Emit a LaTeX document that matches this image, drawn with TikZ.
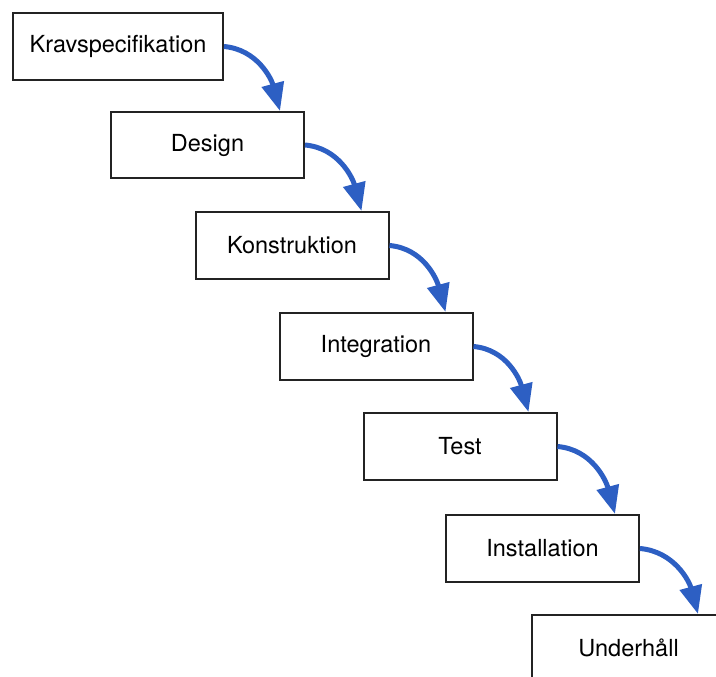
\documentclass[tikz,border=0pt]{standalone}
\usepackage{fontspec}
\setmainfont{TeX Gyre Heros}
\usetikzlibrary{arrows.meta}
\definecolor{flowblue}{RGB}{45,95,195}
\definecolor{boxline}{RGB}{35,35,35}
\begin{document}
\begin{tikzpicture}[x=1pt,y=-1pt,
  stage/.style={draw=boxline, line width=2pt, fill=white, minimum width=193pt,
    minimum height=66pt, inner sep=0pt, font=\fontsize{23.5}{26}\selectfont},
  flow/.style={draw=flowblue, line width=5pt,
    -{Triangle[length=28pt,width=22pt]}}]
\clip (0,0) rectangle (716,677);
\fill[white] (0,0) rectangle (716,677);
\node[stage, minimum width=210pt, minimum height=67pt] (k) at (118,46.5) {Kravspecifikation};
\node[stage] (d) at (207.5,145) {Design};
\node[stage, minimum height=67pt] (c) at (292,245.5) {Konstruktion};
\node[stage, minimum height=67pt] (i) at (376,346.5) {Integration};
\node[stage, minimum height=67pt] (t) at (460,446.5) {Test};
\node[stage, minimum height=67pt] (s) at (542.5,548.5) {Installation};
\node[stage] (u) at (628.5,648) {Underhåll};
\draw[flow] (k.east) to[out=-5,in=105] ([xshift=-25pt]d.north east);
\draw[flow] (d.east) to[out=-5,in=105] ([xshift=-28pt]c.north east);
\draw[flow] (c.east) to[out=-5,in=105] ([xshift=-28pt]i.north east);
\draw[flow] (i.east) to[out=-5,in=105] ([xshift=-29pt]t.north east);
\draw[flow] (t.east) to[out=-5,in=105] ([xshift=-25pt]s.north east);
\draw[flow] (s.east) to[out=-5,in=105] ([xshift=-28pt]u.north east);
\end{tikzpicture}
\end{document}
